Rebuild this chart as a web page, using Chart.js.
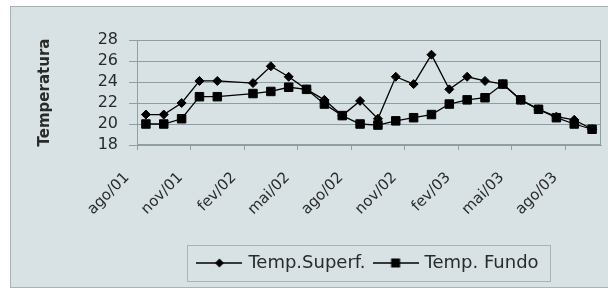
<!DOCTYPE html>
<html><head><meta charset="utf-8">
<script src="https://cdn.jsdelivr.net/npm/chart.js@4.4.1/dist/chart.umd.min.js"></script>
<style>
html,body{margin:0;padding:0;background:#fff;}
#frame{position:absolute;left:10px;top:6px;width:597px;height:280px;border:1px solid #a9b3b4;background:#d8e2e4;}
canvas{display:block;}
</style></head><body>
<div id="frame"><canvas id="c" width="597" height="280" style="width:597px;height:280px"></canvas></div>
<script>
const months = ['ago/01','set/01','out/01','nov/01','dez/01','jan/02','fev/02','mar/02','abr/02','mai/02','jun/02','jul/02',
  'ago/02','set/02','out/02','nov/02','dez/02','jan/03','fev/03','mar/03','abr/03','mai/03','jun/03','jul/03','ago/03','set/03'];
const tempSuperf = [20.9, 20.9, 22.0, 24.1, 24.1, null, 23.9, 25.5, 24.5, 23.3, 22.3, 20.8, 22.2, 20.5, 24.5, 23.8, 26.6, 23.3, 24.5, 24.1, 23.8, 22.3, 21.4, 20.7, 20.4, 19.5];
const tempFundo  = [20.0, 20.0, 20.5, 22.6, 22.6, null, 22.9, 23.1, 23.5, 23.3, 21.9, 20.8, 20.0, 19.9, 20.3, 20.6, 20.9, 21.9, 22.3, 22.5, 23.8, 22.3, 21.4, 20.6, 20.0, 19.5];
const seriesNames = ['Temp.Superf.', 'Temp. Fundo'];
const yTitle = 'Temperatura';
const yMin = 18, yMax = 28, yStep = 2;

const GRID = '#8f9ea2';
const TXT = '#2a2a2a';

function legendIcon(style) {
  const c = document.createElement('canvas');
  c.width = 46; c.height = 14;
  const g = c.getContext('2d');
  g.strokeStyle = '#000'; g.lineWidth = 1.3;
  g.beginPath(); g.moveTo(0, 7); g.lineTo(46, 7); g.stroke();
  g.fillStyle = '#000';
  if (style === 'rectRot') {
    g.beginPath(); g.moveTo(23, 2.5); g.lineTo(27.5, 7); g.lineTo(23, 11.5); g.lineTo(18.5, 7); g.closePath(); g.fill();
  } else {
    g.fillRect(18.5, 2.5, 9, 9);
  }
  return c;
}
const icons = [legendIcon('rectRot'), legendIcon('rect')];

const frameBoxes = {
  id: 'frameBoxes',
  afterDraw(chart) {
    const ctx = chart.ctx, a = chart.chartArea;
    ctx.save();
    ctx.strokeStyle = GRID; ctx.lineWidth = 1;
    ctx.strokeRect(Math.round(a.left) + 0.5, Math.round(a.top) + 0.5, Math.round(a.right - a.left) - 1, Math.round(a.bottom - a.top) - 1);
    const hb = chart.legend.legendHitBoxes;
    if (hb && hb.length) {
      const l = hb[0].left - 12;
      const last = hb[hb.length - 1];
      const r = last.left + last.width + 12;
      const t = chart.legend.top + 1, b = chart.legend.bottom - 1;
      ctx.strokeStyle = '#a9b3b4';
      ctx.strokeRect(Math.round(l) + 0.5, Math.round(t) + 0.5, Math.round(r - l), Math.round(b - t));
    }
    ctx.restore();
  }
};

new Chart(document.getElementById('c'), {
  type: 'line',
  data: {
    labels: months,
    datasets: [
      { label: seriesNames[0], data: tempSuperf, borderColor: '#000', backgroundColor: '#000', borderWidth: 1.3,
        pointStyle: 'rectRot', pointRadius: 4.5, pointBorderWidth: 1, spanGaps: true, tension: 0 },
      { label: seriesNames[1], data: tempFundo, borderColor: '#000', backgroundColor: '#000', borderWidth: 1.3,
        pointStyle: 'rect', pointRadius: 6, pointBorderWidth: 1, spanGaps: true, tension: 0 }
    ]
  },
  options: {
    responsive: false, animation: false, devicePixelRatio: 1,
    layout: { padding: { left: 10, right: 6, top: 33, bottom: 5 } },
    plugins: {
      tooltip: { enabled: false },
      legend: {
        position: 'bottom', fullSize: false,
        labels: {
          usePointStyle: true, pointStyleWidth: 40, padding: 10,
          color: TXT, font: { family: 'DejaVu Sans', size: 18 },
          generateLabels(chart) {
            return chart.data.datasets.map((ds, i) => ({
              text: ds.label, pointStyle: icons[i], fillStyle: '#000', strokeStyle: '#000',
              lineWidth: 0, hidden: false, datasetIndex: i, fontColor: TXT
            }));
          }
        }
      }
    },
    scales: {
      x: {
        type: 'category', offset: true,
        afterFit(s) { s.height = 99; s.paddingLeft = 0; s.paddingRight = 0; },
        grid: {
          offset: true, drawOnChartArea: false, drawTicks: true, tickLength: 5,
          color: ctx => (ctx.type === 'tick' && ctx.index % 3 === 0) ? GRID : 'rgba(0,0,0,0)'
        },
        border: { color: GRID },
        ticks: {
          autoSkip: false, minRotation: 45, maxRotation: 45, padding: 19, labelOffset: -19,
          color: TXT, font: { family: 'DejaVu Sans', size: 15 },
          callback: (v, i) => (i % 3 === 0 ? months[i] : '')
        }
      },
      y: {
        min: yMin, max: yMax,
        afterFit(s) { s.width = 116; },
        grid: { color: GRID, tickLength: 8 },
        border: { color: GRID },
        ticks: { stepSize: yStep, autoSkip: false, padding: 11, color: TXT, font: { family: 'DejaVu Sans', size: 16 } },
        title: { display: true, text: yTitle, color: TXT, padding: { top: 15, bottom: 0 },
          font: { family: 'DejaVu Sans', size: 15, weight: 'bold' } }
      }
    }
  },
  plugins: [frameBoxes]
});
</script>
</body></html>
